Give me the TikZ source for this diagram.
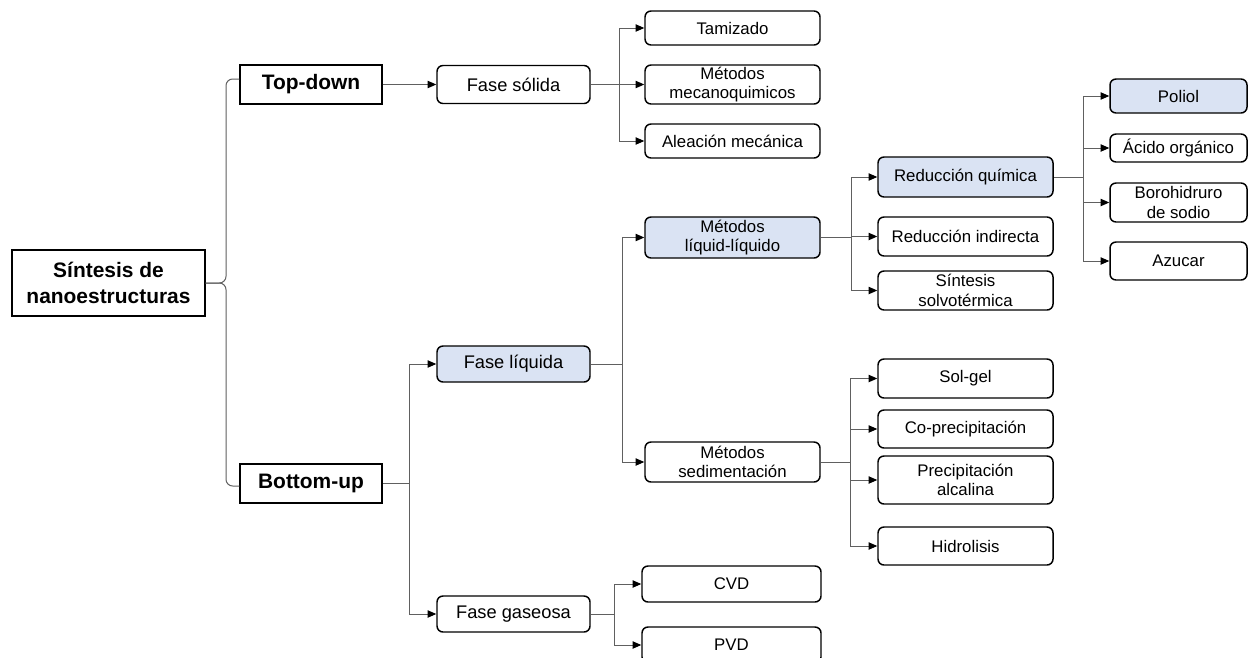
\documentclass[tikz,border=0pt]{standalone}
\usepackage{fontspec}
\setmainfont{Liberation Sans}
\usetikzlibrary{arrows.meta}
\definecolor{hl}{HTML}{DAE3F3}
\definecolor{ln}{HTML}{606060}
\newcommand\txtN{\fontsize{12.6}{14.5}\selectfont}
\newcommand\txtF{\fontsize{13.7}{15.5}\selectfont}
\newcommand\txtB{\fontsize{15.7}{19.5}\selectfont\bfseries}
\begin{document}
\begin{tikzpicture}[x=0.75pt,y=-0.75pt,
 box/.style={draw, line width=1.1pt, rounded corners=4.5pt, inner sep=0pt, align=center, font=\txtN, minimum width=131.25pt},
 fbox/.style={box, font=\txtF, minimum width=114.75pt},
 sq/.style={draw, line width=1.1pt, inner sep=0pt, align=center, font=\txtB},
 hlb/.style={fill=hl},
 conn/.style={draw=ln, line width=0.75pt},
 arr/.style={conn, -{Triangle[length=6.5pt,width=5.5pt,color=black]}}]
\clip (0,0) rectangle (1248,657);
\fill[white] (0,0) rectangle (1248,657);
% level 0-1
\node[sq, minimum width=144.75pt, minimum height=49.5pt] (root) at (108.5,283) {Síntesis de\\nanoestructuras};
\node[sq, minimum width=106.5pt, minimum height=29.25pt] (td) at (311,84.5) {Top-down};
\node[sq, minimum width=106.5pt, minimum height=29.25pt] (bu) at (311,483.5) {Bottom-up};
% level 2
\node[fbox, minimum height=28.5pt] (fs) at (513.5,84.5) {Fase sólida};
\node[fbox, hlb, minimum height=27pt] (fl) at (513.5,364) {Fase líquida};
\node[fbox, minimum height=27pt] (fg) at (513.5,614) {Fase gaseosa};
% level 3
\node[box, minimum height=25.5pt] (tam) at (732.5,28) {Tamizado};
\node[box, minimum height=29.25pt] (mec) at (732.5,84.5) {Métodos\\mecanoquimicos};
\node[box, minimum height=25.5pt] (ale) at (732.5,141) {Aleación mecánica};
\node[box, hlb, minimum height=30.75pt] (mll) at (732.5,237.5) {Métodos\\líquid-líquido};
\node[box, minimum height=30pt] (sed) at (732.5,462) {Métodos\\sedimentación};
\node[box, minimum width=134.25pt, minimum height=27pt] (cvd) at (731.5,584) {CVD};
\node[box, minimum width=134.25pt, minimum height=27pt] (pvd) at (731.5,645) {PVD};
% level 4
\node[box, hlb, minimum height=30pt] (rq) at (965.5,177) {Reducción química};
\node[box, minimum height=29.25pt] (ri) at (965.5,236.5) {Reducción indirecta};
\node[box, minimum height=29.25pt] (ss) at (965.5,290.5) {Síntesis\\solvotérmica};
\node[box, minimum height=29.25pt] (sg) at (965.5,378.5) {Sol-gel};
\node[box, minimum height=28.5pt] (cp) at (965.5,429) {Co-precipitación};
\node[box, minimum height=36pt] (pa) at (965.5,480) {Precipitación\\alcalina};
\node[box, minimum height=28.5pt] (hi) at (965.5,546) {Hidrolisis};
% level 5
\node[box, hlb, minimum width=102.75pt, minimum height=25.5pt] (po) at (1178.5,96) {Poliol};
\node[box, minimum width=102.75pt, minimum height=21pt] (ac) at (1178.5,148) {Ácido orgánico};
\node[box, minimum width=102.75pt, minimum height=29.25pt] (bo) at (1178.5,202.5) {Borohidruro\\de sodio};
\node[box, minimum width=102.75pt, minimum height=28.5pt] (az) at (1178.5,261) {Azucar};
% connectors
\coordinate (bt) at (226,79);
\coordinate (bb) at (226,486);
\draw[conn, rounded corners=5pt] (root.east) -| (bt) -- (td.west |- bt);
\draw[conn, rounded corners=5pt] (root.east) -| (bb) -- (bu.west |- bb);
\draw[arr] (td.east) -- (fs.west);
\coordinate (j1) at ([xshift=20.25pt]bu.east);
\draw[conn] (bu.east) -- (j1);
\draw[arr] (j1) |- (fl.west);
\draw[arr] (j1) |- (fg.west);
\coordinate (j2) at ([xshift=21.75pt]fs.east);
\draw[conn] (fs.east) -- (j2);
\draw[arr] (j2) |- (tam.west);
\draw[arr] (j2) |- (mec.west);
\draw[arr] (j2) |- (ale.west);
\coordinate (j3) at ([xshift=24pt]fl.east);
\draw[conn] (fl.east) -- (j3);
\draw[arr] (j3) |- (mll.west);
\draw[arr] (j3) |- (sed.west);
\coordinate (j4) at ([xshift=18pt]fg.east);
\draw[conn] (fg.east) -- (j4);
\draw[arr] (j4) |- (cvd.west);
\draw[arr] (j4) |- (pvd.west);
\coordinate (j5) at ([xshift=23.25pt]mll.east);
\draw[conn] (mll.east) -- (j5);
\draw[arr] (j5) |- (rq.west);
\draw[arr] (j5) |- (ri.west);
\draw[arr] (j5) |- (ss.west);
\coordinate (j6) at ([xshift=22.5pt]sed.east);
\draw[conn] (sed.east) -- (j6);
\draw[arr] (j6) |- (sg.west);
\draw[arr] (j6) |- (cp.west);
\draw[arr] (j6) |- (pa.west);
\draw[arr] (j6) |- (hi.west);
\coordinate (j7) at ([xshift=22.5pt]rq.east);
\draw[conn] (rq.east) -- (j7);
\draw[arr] (j7) |- (po.west);
\draw[arr] (j7) |- (ac.west);
\draw[arr] (j7) |- (bo.west);
\draw[arr] (j7) |- (az.west);
\end{tikzpicture}
\end{document}
